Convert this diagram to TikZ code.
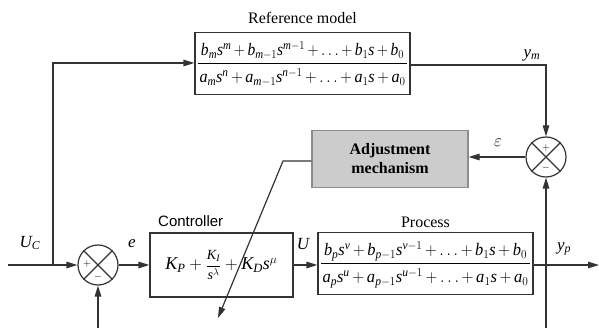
\documentclass[tikz,border=0pt]{standalone}
\usepackage{amsmath}
\usepackage{graphicx}
\usepackage{fontspec}
\setmainfont{Liberation Serif}
\newfontfamily\ctrlfont{Liberation Sans}
\usetikzlibrary{arrows.meta}
% Times-like math letters and digits
\DeclareSymbolFont{tlet}{TU}{\rmdefault}{m}{it}
\DeclareSymbolFont{trm}{TU}{\rmdefault}{m}{n}
\DeclareMathSymbol{a}{\mathalpha}{tlet}{`a}
\DeclareMathSymbol{b}{\mathalpha}{tlet}{`b}
\DeclareMathSymbol{e}{\mathalpha}{tlet}{`e}
\DeclareMathSymbol{m}{\mathalpha}{tlet}{`m}
\DeclareMathSymbol{n}{\mathalpha}{tlet}{`n}
\DeclareMathSymbol{p}{\mathalpha}{tlet}{`p}
\DeclareMathSymbol{s}{\mathalpha}{tlet}{`s}
\DeclareMathSymbol{u}{\mathalpha}{tlet}{`u}
\DeclareMathSymbol{v}{\mathalpha}{tlet}{`v}
\DeclareMathSymbol{y}{\mathalpha}{tlet}{`y}
\DeclareMathSymbol{C}{\mathalpha}{tlet}{`C}
\DeclareMathSymbol{D}{\mathalpha}{tlet}{`D}
\DeclareMathSymbol{I}{\mathalpha}{tlet}{`I}
\DeclareMathSymbol{K}{\mathalpha}{tlet}{`K}
\DeclareMathSymbol{P}{\mathalpha}{tlet}{`P}
\DeclareMathSymbol{U}{\mathalpha}{tlet}{`U}
\DeclareMathSymbol{0}{\mathord}{trm}{`0}
\DeclareMathSymbol{1}{\mathord}{trm}{`1}
\DeclareMathSymbol{+}{\mathbin}{trm}{`+}
% fraction with fixed widths and fixed baselines
\newcommand\barfrac[3]{\vbox{\offinterlineskip\medmuskip=3mu
  \hbox to 211pt{\hss\raisebox{0pt}[12pt][0pt]{\resizebox{203pt}{\height}{$#2$}}\hss}\kern7.3pt
  \hbox to 211pt{\hss\vrule width #1 height 0.8pt depth 0pt\hss}\kern18.7pt
  \hbox to 211pt{\hss\raisebox{0pt}[0pt][0pt]{\resizebox{206pt}{\height}{$#3$}}\hss}\kern0.6pt}}
\newcommand\ctrlfrac[2]{\mbox{\fontsize{14}{16}\selectfont$\dfrac{#1}{#2}$}}
\begin{document}
\begin{tikzpicture}[x=1pt,y=-1pt,
  blockbox/.style={draw=black!80, line width=1.2pt, inner sep=0pt, minimum height=62pt},
  sumc/.style={draw=black!80, circle, minimum size=40pt, inner sep=0pt, line width=1.2pt},
  arr/.style={-{Triangle[length=11pt,width=6.5pt]}, draw=black!80, line width=1.2pt},
  ln/.style={draw=black!80, line width=1.2pt},
  lbl/.style={inner sep=0pt, font=\fontsize{16}{19}\selectfont},
  mlbl/.style={inner sep=0pt, font=\fontsize{17}{20}\selectfont},
  sgn/.style={inner sep=0pt, font=\fontsize{10}{12}\selectfont}]
\useasboundingbox (0,0) rectangle (599,328);
% blocks
\node[blockbox, minimum width=215pt, font=\fontsize{17.5}{21}\selectfont] (ref) at (302.5,63.4)
  {\barfrac{209pt}{b_m s^m + b_{m-1}s^{m-1} + \ldots + b_1 s + b_0}{a_m s^n + a_{m-1}s^{n-1} + \ldots + a_1 s + a_0}};
\node[blockbox, minimum width=156pt, minimum height=57pt, fill=black!20, draw=black!45, align=center, font=\fontsize{16}{19}\selectfont\bfseries] (adj) at (390,159) {Adjustment\\mechanism};
\node[blockbox, minimum width=143pt, minimum height=64pt, font=\fontsize{18}{21}\selectfont] (ctrl) at (221.5,265)
  {$K_P + \ctrlfrac{K_I}{s^{\lambda}} + K_D s^{\mu}$};
\node[blockbox, minimum width=215pt, font=\fontsize{17.5}{21}\selectfont] (proc) at (425.5,263.4)
  {\barfrac{209pt}{b_p s^v + b_{p-1}s^{v-1} + \ldots + b_1 s + b_0}{a_p s^u + a_{p-1}s^{u-1} + \ldots + a_1 s + a_0}};
% summing junctions
\node[sumc] (s1) at (98,265) {};
\draw[ln] (s1.north east) -- (s1.south west) (s1.north west) -- (s1.south east);
\node[sumc] (s2) at (546,157) {};
\draw[ln] (s2.north east) -- (s2.south west) (s2.north west) -- (s2.south east);
\node[sgn] (p1) at (87,264) {$+$};
\node[sgn] (m1) at (98,277) {$-$};
\node[sgn] (p2) at (546,148) {$+$};
\node[sgn] (m2) at (546,168) {$-$};
% titles and labels
\node[lbl] (tref) at (302.5,18) {Reference model};
\node[lbl, anchor=west, font=\fontsize{15}{18}\ctrlfont] (tctrl) at (158,221) {Controller};
\node[lbl] (tproc) at (425.5,222) {Process};
\node[mlbl] (lym) at (532,55) {$y_m$};
\node[mlbl] (leps) at (498,143) {$\varepsilon$};
\node[mlbl] (luc) at (30,243) {$U_C$};
\node[mlbl] (le) at (132,244) {$e$};
\node[mlbl] (lu) at (303,244) {$U$};
\node[mlbl] (lyp) at (564,249) {$y_p$};
% coordinates
\coordinate (in) at (8,265);
\coordinate (br) at (53,265);
\coordinate (brtop) at (53,63);
\coordinate (ymc) at (546,65);
\coordinate (out) at (599,265);
\coordinate (fb2) at (546,328);
\coordinate (fb1) at (98,328);
\coordinate (a1) at (283,161);
\coordinate (atip) at (218,318);
% connectors
\draw[arr] (in) -- (s1.west);
\draw[arr] (br) -- (brtop) -- (ref.west |- brtop);
\draw[arr] (ref.east |- ymc) -- (ymc) -- (s2.north);
\draw[arr] (s2.west) -- (adj.east |- s2.west);
\draw[arr] (adj.west |- a1) -- (a1) -- (atip);
\draw[arr] (s1.east) -- (ctrl.west |- s1.east);
\draw[arr] (ctrl.east |- s1.east) -- (proc.west |- s1.east);
\draw[arr] (proc.east |- out) -- (out);
\draw[arr] (fb2) -- (s2.south);
\draw[arr] (fb1) -- (s1.south);
\end{tikzpicture}
\end{document}
